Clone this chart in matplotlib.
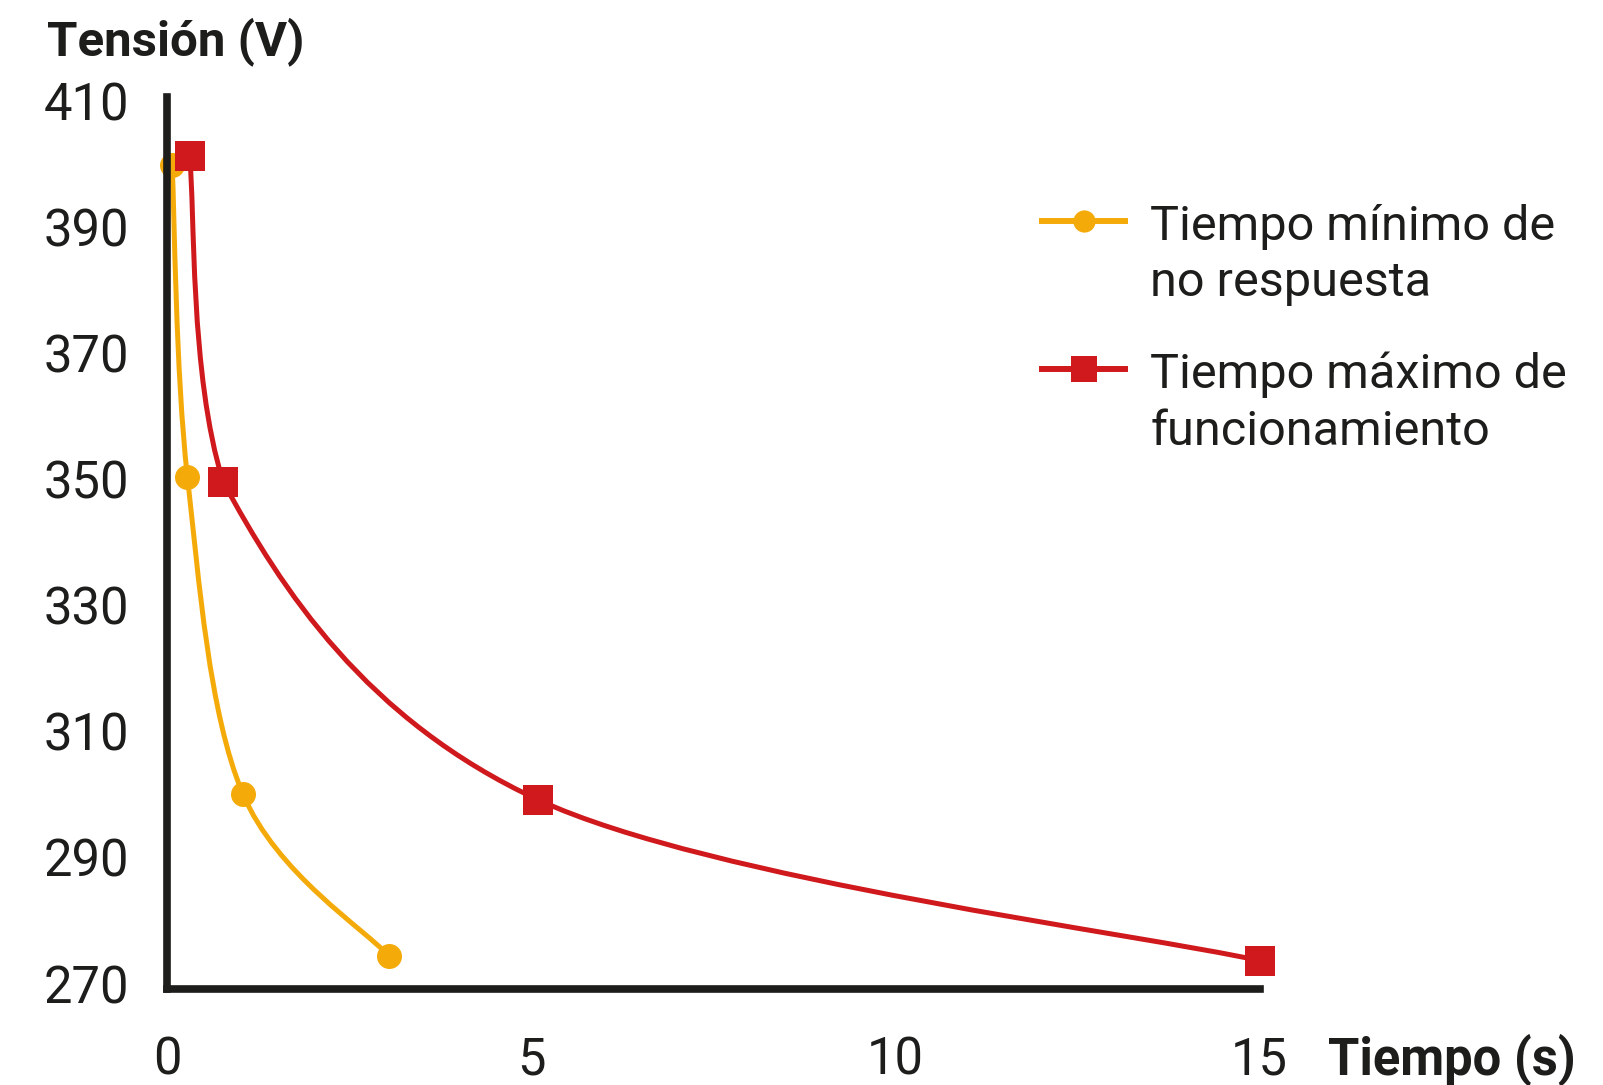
import numpy as np
import matplotlib
matplotlib.use('Agg')
from matplotlib import pyplot as plt
from matplotlib.path import Path
from matplotlib.patches import PathPatch
from matplotlib.lines import Line2D

plt.rcParams['font.family'] = ['Roboto', 'DejaVu Sans']

# values
t_min = [0.07, 0.28, 1.04, 3.05]
v_min = [400.8, 351.3, 301.0, 275.2]
t_max = [0.31, 0.77, 5.10, 15.0]
v_max = [402.2, 350.5, 300.0, 274.5]
x_ticks = [0, 5, 10, 15]
y_ticks = [270, 290, 310, 330, 350, 370, 390, 410]
label_min = 'Tiempo mínimo de\nno respuesta'
label_max = 'Tiempo máximo de\nfuncionamiento'

yellow = '#f4ab0a'
red = '#d0191c'
ink = '#1d1d1b'


def smooth_path(x, y, k=1 / 6):
    # spreadsheet-style smoothed line: cubic bezier through every point,
    # control points kept inside each segment's box so nothing overshoots
    pts = np.column_stack([x, y]).astype(float)
    n = len(pts)
    verts = [pts[0]]
    codes = [Path.MOVETO]
    for i in range(n - 1):
        p_prev = pts[max(i - 1, 0)]
        p0 = pts[i]
        p1 = pts[i + 1]
        p_next = pts[min(i + 2, n - 1)]
        lo = np.minimum(p0, p1)
        hi = np.maximum(p0, p1)
        c1 = np.clip(p0 + (p1 - p_prev) * k, lo, hi)
        c2 = np.clip(p1 - (p_next - p0) * k, lo, hi)
        verts += [c1, c2, p1]
        codes += [Path.CURVE4] * 3
    return Path(verts, codes)


fig = plt.figure(figsize=(16.03, 10.85), dpi=100)
ax = fig.add_axes([167 / 1603, 1 - 989 / 1085, 1092.5 / 1603, 892 / 1085])

for t, v, col, mk, ms in [(t_min, v_min, yellow, 'o', 18), (t_max, v_max, red, 's', 21)]:
    ax.add_patch(PathPatch(smooth_path(t, v), fill=False, edgecolor=col, lw=3.6,
                           clip_on=False, zorder=2.1))
    ax.plot(t, v, linestyle='none', marker=mk, ms=ms, color=col, mew=0,
            clip_on=False, zorder=2.2)

ax.set_xlim(0, 15)
ax.set_ylim(270, 411.55)
ax.set_xticks(x_ticks)
ax.set_yticks(y_ticks)
ax.tick_params(length=0, labelsize=36.5, labelcolor=ink)
ax.tick_params(axis='x', pad=33.5)
ax.tick_params(axis='y', pad=27)
for lab in ax.get_yticklabels():
    lab.set_va('center')

for side in ['top', 'right']:
    ax.spines[side].set_visible(False)
for side in ['left', 'bottom']:
    ax.spines[side].set_linewidth(5.5)
    ax.spines[side].set_color(ink)
ax.spines['bottom'].set_capstyle('projecting')

fig.text(47 / 1603, 1 - 55 / 1085, 'Tensión (V)', fontsize=35.5, fontweight='bold',
         color=ink, va='baseline', ha='left')
fig.text(1328 / 1603, 1 - 1074 / 1085, 'Tiempo (s)', fontsize=36.5, fontweight='bold',
         color=ink, va='baseline', ha='left')

handles = [Line2D([], [], color=yellow, lw=4.3, marker='o', ms=16, mew=0),
           Line2D([], [], color=red, lw=4.3, marker='s', ms=19, mew=0)]
leg = ax.legend(handles, [label_min, label_max], loc='upper left',
                bbox_to_anchor=(1042 / 1603, 1 - 204 / 1085), bbox_transform=fig.transFigure,
                frameon=False, fontsize=35, borderpad=0, borderaxespad=0,
                handlelength=1.71, handletextpad=0.52, labelspacing=0.93)
for txt in leg.get_texts():
    txt.set_color(ink)
    txt.set_linespacing(1.29)
# put the key next to the first line of each label
for col in leg._legend_handle_box.get_children():
    for item in col.get_children():
        item.align = 'top'

fig.savefig('out.png', dpi=100)
